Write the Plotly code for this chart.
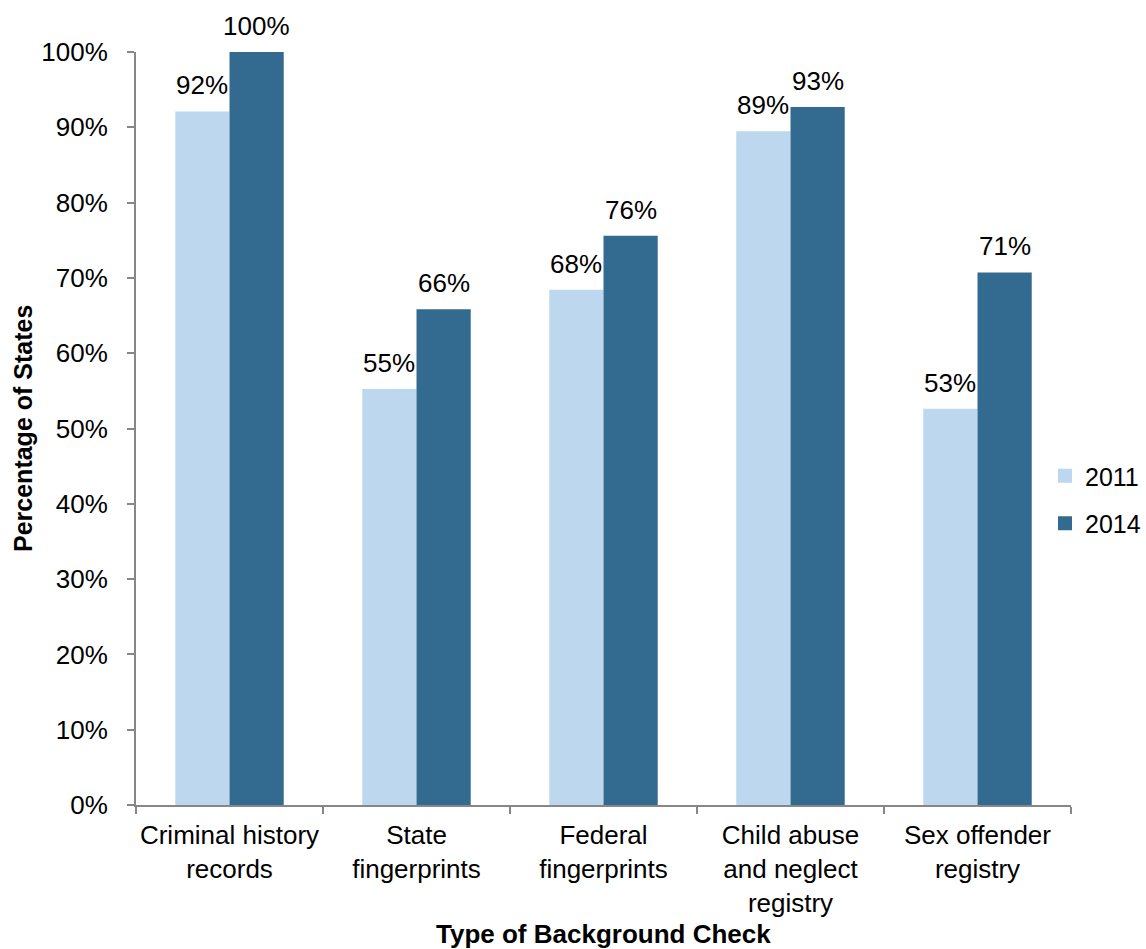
import plotly.graph_objects as go

categories = ["Criminal history<br>records", "State<br>fingerprints", "Federal<br>fingerprints",
              "Child abuse<br>and neglect<br>registry", "Sex offender<br>registry"]
series_names = ["2011", "2014"]
values_2011 = [0.9211, 0.5526, 0.6842, 0.8947, 0.5263]
values_2014 = [1.0000, 0.6585, 0.7561, 0.9268, 0.7073]
y_ticks = [0, 0.1, 0.2, 0.3, 0.4, 0.5, 0.6, 0.7, 0.8, 0.9, 1.0]
y_tick_labels = ["0%", "10%", "20%", "30%", "40%", "50%", "60%", "70%", "80%", "90%", "100%"]

colors = ["#BDD7EE", "#336A8F"]
FONT = "Liberation Sans, Arial, sans-serif"
FS = 26
BARGAP = 0.42
bar_w = (1 - BARGAP) / 2

fig = go.Figure()
for k, (name, vals, col) in enumerate(zip(series_names, [values_2011, values_2014], colors)):
    fig.add_trace(go.Bar(
        x=categories, y=vals, name=name, marker=dict(color=col, line=dict(width=0)),
        showlegend=False,
    ))
    # legend entry with larger square symbol
    fig.add_trace(go.Scatter(
        x=[None], y=[None], mode="markers", name=name,
        marker=dict(symbol="square", size=14, color=col),
        legendgroup=name, showlegend=True,
    ))
    offset = (k - 0.5) * bar_w
    for i, v in enumerate(vals):
        fig.add_annotation(x=i + offset, y=v, xref="x", yref="y",
                           text=f"{int(v*100 + 0.5)}%", showarrow=False,
                           xanchor="center", yanchor="bottom", yshift=9,
                           font=dict(size=FS, family=FONT, color="#000000"))

fig.update_layout(
    barmode="group", bargap=BARGAP, bargroupgap=0,
    width=1146, height=949,
    margin=dict(l=136, r=75, t=52, b=144, autoexpand=False),
    plot_bgcolor="white", paper_bgcolor="white",
    font=dict(family=FONT, size=FS, color="#000000"),
    showlegend=True,
    legend=dict(x=(1045 - 136) / 935, xanchor="left", y=(805 - 499.5) / 753, yanchor="middle",
                font=dict(size=25, family=FONT), bgcolor="rgba(0,0,0,0)",
                tracegroupgap=12, itemwidth=30),
)
fig.update_yaxes(range=[0, 1], tickvals=y_ticks, ticktext=y_tick_labels,
                 showgrid=False, zeroline=False, showline=True, linecolor="#878787",
                 linewidth=2, ticks="outside", ticklen=7, tickcolor="#878787", tickwidth=2,
                 ticklabelstandoff=14, tickfont=dict(size=FS, family=FONT), automargin=False)
fig.update_xaxes(showgrid=False, showline=True, linecolor="#878787", linewidth=2,
                 ticks="outside", ticklen=7, tickcolor="#878787", tickwidth=2, tickangle=0,
                 tickson="boundaries", ticklabelstandoff=6, tickfont=dict(size=FS, family=FONT),
                 automargin=False)

fig.add_annotation(text="<b>Percentage of States</b>", xref="paper", yref="paper",
                   x=(22.5 - 136) / 935, y=0.5, textangle=-90, showarrow=False,
                   xanchor="center", yanchor="middle", font=dict(size=25, family=FONT))
fig.add_annotation(text="<b>Type of Background Check</b>", xref="paper", yref="paper",
                   x=0.5, y=-(934 - 805) / 753, showarrow=False,
                   xanchor="center", yanchor="middle", font=dict(size=26, family=FONT))

fig.write_html("out.html")
